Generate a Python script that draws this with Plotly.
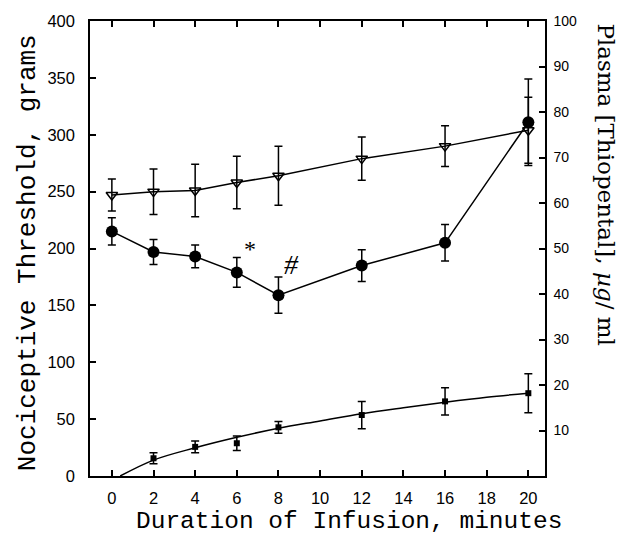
import plotly.graph_objects as go

# ---------------- data ----------------
minutes = [0, 2, 4, 6, 8, 12, 16, 20]

# Nociceptive threshold, grams (filled circles)
thresh_circle = [215, 197, 193, 179, 159, 185, 205, 311]
thresh_circle_err = [12, 11, 10, 13, 16, 14, 16, 38]

# Nociceptive threshold, grams (open inverted triangles)
thresh_tri = [247, 250, 251, 258, 264, 279, 290, 304]
thresh_tri_err = [14, 20, 23, 23, 26, 19, 18, 29]

# Plasma thiopental, ug/ml (small filled squares)
plasma_x = [2, 4, 6, 8, 12, 16, 20]
plasma = [3.9, 6.4, 7.2, 10.7, 13.4, 16.4, 18.2]
plasma_err = [1.2, 1.3, 1.6, 1.3, 3.0, 3.0, 4.3]

# fitted plasma curve
fit_x = [0.4, 2, 4, 6, 8, 10, 12, 14, 16, 18, 20]
fit_y = [0, 3.5, 6.2, 8.5, 10.5, 12.1, 13.7, 15.0, 16.2, 17.3, 18.2]

x_ticks = [0, 2, 4, 6, 8, 10, 12, 14, 16, 18, 20]
left_ticks = [0, 50, 100, 150, 200, 250, 300, 350, 400]
right_ticks = [10, 20, 30, 40, 50, 60, 70, 80, 90, 100]

# ---------------- figure ----------------
fig = go.Figure()

fig.add_trace(go.Scatter(
    x=minutes, y=thresh_tri, mode="lines+markers",
    line=dict(color="black", width=1.5),
    marker=dict(symbol="triangle-down-open", size=10, color="black",
                line=dict(width=1.5, color="black")),
    error_y=dict(type="data", array=thresh_tri_err, color="black",
                 thickness=1.5, width=4),
    showlegend=False))

fig.add_trace(go.Scatter(
    x=minutes, y=thresh_circle, mode="lines+markers",
    line=dict(color="black", width=1.5),
    marker=dict(symbol="circle", size=12, color="black"),
    error_y=dict(type="data", array=thresh_circle_err, color="black",
                 thickness=1.5, width=4),
    showlegend=False))

fig.add_trace(go.Scatter(
    x=fit_x, y=fit_y, mode="lines", yaxis="y2",
    line=dict(color="black", width=1.5, shape="spline"),
    showlegend=False))

fig.add_trace(go.Scatter(
    x=plasma_x, y=plasma, mode="markers", yaxis="y2",
    marker=dict(symbol="square", size=6, color="black"),
    error_y=dict(type="data", array=plasma_err, color="black",
                 thickness=1.5, width=4),
    showlegend=False))

tick_font = dict(family="Liberation Sans, Arial, sans-serif", size=16.5, color="black")

fig.update_layout(
    template="none",
    width=626, height=530,
    margin=dict(l=82, r=89, t=13, b=62, autoexpand=False),
    paper_bgcolor="white", plot_bgcolor="white",
    xaxis=dict(
        range=[-1.05, 20.8], tickvals=x_ticks, ticktext=[str(v) for v in x_ticks],
        ticks="inside", ticklen=6, tickwidth=1.5, tickcolor="black",
        showline=True, linecolor="black", linewidth=1.5, mirror="ticks",
        showgrid=False, zeroline=False, tickfont=tick_font, ticklabelstandoff=6,
        automargin=False,
    ),
    yaxis=dict(
        range=[0, 400], tickvals=left_ticks,
        ticks="inside", ticklen=6, tickwidth=1.5, tickcolor="black",
        showline=True, linecolor="black", linewidth=1.5,
        showgrid=False, zeroline=False, tickfont=tick_font, ticklabelstandoff=10,
        automargin=False,
    ),
    yaxis2=dict(
        range=[0, 100], tickvals=right_ticks, overlaying="y", side="right",
        ticks="inside", ticklen=6, tickwidth=1.5, tickcolor="black",
        showline=True, linecolor="black", linewidth=1.5,
        showgrid=False, zeroline=False, ticklabelstandoff=4, automargin=False,
        tickfont=dict(family="Liberation Sans, Arial, sans-serif", size=14, color="black"),
    ),
    annotations=[
        dict(text="Duration of Infusion, minutes", xref="paper", yref="paper",
             x=0.57, y=-0.101, xanchor="center", yanchor="middle", showarrow=False,
             borderpad=0,
             font=dict(family="Liberation Mono, Courier New, monospace", size=24.5, color="black")),
        dict(text="Nociceptive Threshold, grams", xref="paper", yref="paper",
             x=-0.136, y=0.49, xanchor="center", yanchor="middle", showarrow=False,
             textangle=-90,
             font=dict(family="Liberation Mono, Courier New, monospace", size=26, color="black")),
        dict(text="Plasma [Thiopental], <i>µg</i>/ ml", xref="paper", yref="paper",
             x=1.135, y=0.64, xanchor="center", yanchor="middle", showarrow=False,
             textangle=90,
             font=dict(family="DejaVu Serif, serif", size=23, color="black")),
        dict(text="*", x=6.65, y=200, xref="x", yref="y", showarrow=False,
             font=dict(family="Liberation Serif, serif", size=24, color="black")),
        dict(text="<i>#</i>", x=8.65, y=186, xref="x", yref="y", showarrow=False,
             font=dict(family="Liberation Serif, serif", size=28, color="black")),
    ],
)

fig.write_html("out.html")
